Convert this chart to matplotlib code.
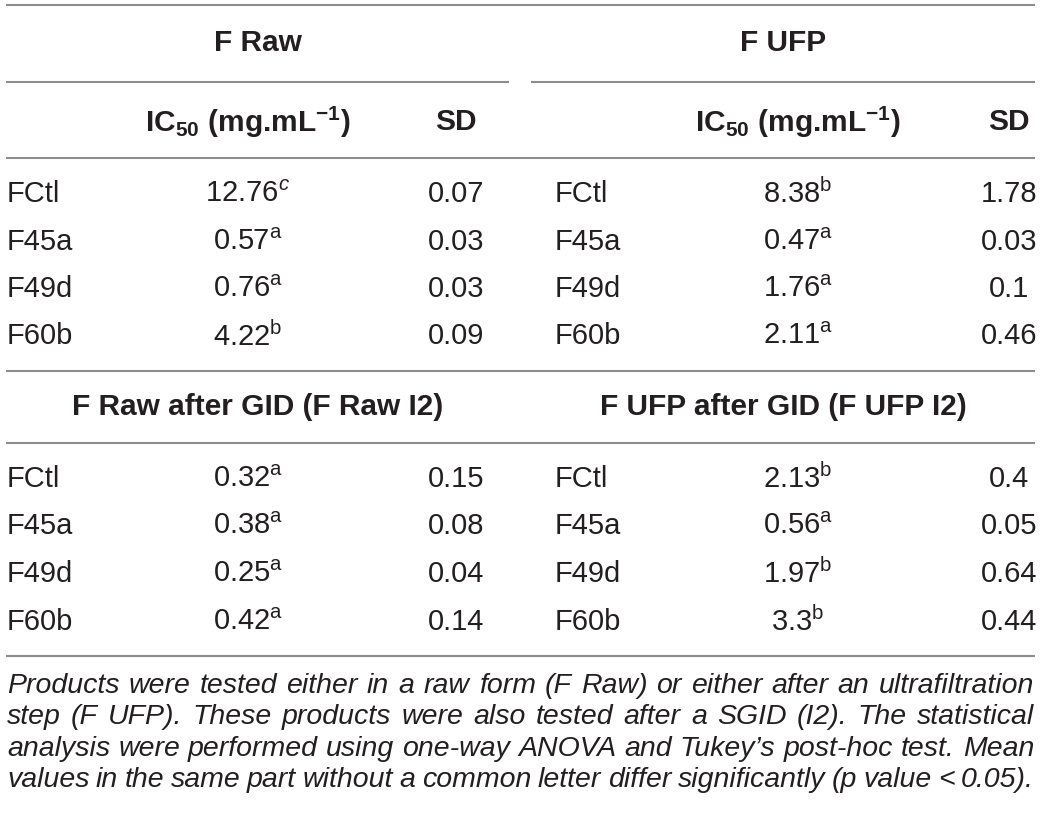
import matplotlib
matplotlib.use('Agg')
from matplotlib import pyplot as plt

plt.rcParams['font.family'] = ['Liberation Sans', 'DejaVu Sans']
plt.rcParams['mathtext.fontset'] = 'custom'
plt.rcParams['mathtext.rm'] = 'Liberation Sans'
plt.rcParams['mathtext.it'] = 'Liberation Sans:italic'
plt.rcParams['mathtext.bf'] = 'Liberation Sans:bold'

# table data
samples = ['FCtl', 'F45a', 'F49d', 'F60b']

raw_ic50 = ['12.76', '0.57', '0.76', '4.22']
raw_let = ['c', 'a', 'a', 'b']
raw_sd = ['0.07', '0.03', '0.03', '0.09']

ufp_ic50 = ['8.38', '0.47', '1.76', '2.11']
ufp_let = ['b', 'a', 'a', 'a']
ufp_sd = ['1.78', '0.03', '0.1', '0.46']

rawi2_ic50 = ['0.32', '0.38', '0.25', '0.42']
rawi2_let = ['a', 'a', 'a', 'a']
rawi2_sd = ['0.15', '0.08', '0.04', '0.14']

ufpi2_ic50 = ['2.13', '0.56', '1.97', '3.3']
ufpi2_let = ['b', 'a', 'b', 'b']
ufpi2_sd = ['0.4', '0.05', '0.64', '0.44']

titles = ['F Raw', 'F UFP', 'F Raw after GID (F Raw I2)', 'F UFP after GID (F UFP I2)']

caption = ["Products were tested either in a raw form (F Raw) or either after an ultrafiltration",
           "step (F UFP). These products were also tested after a SGID (I2). The statistical",
           "analysis were performed using one-way ANOVA and Tukey\u2019s post-hoc test. Mean",
           "values in the same part without a common letter differ significantly (p value < 0.05)."]

W, H = 1040, 816
fig = plt.figure(figsize=(W/100, H/100), dpi=100)
ax = fig.add_axes([0, 0, 1, 1])
ax.set_xlim(0, W)
ax.set_ylim(H, 0)
ax.axis('off')

tc = '#231f20'
lc = '#8c8c8c'
fs = 21
hfs = 21.5

def hline(y, x0=6, x1=1035):
    ax.plot([x0, x1], [y, y], color=lc, lw=1.5, solid_capstyle='butt')

hline(5)
hline(82, 6, 509)
hline(82, 531, 1035)
hline(158)
hline(371)
hline(443)
hline(656)

# column positions (pixels) for left and right halves
lab_x = [7, 555]
ic_x = [248, 798]
sd_x = [456, 1009]
title_x = [258, 783]

for k in range(2):
    ax.text(title_x[k], 43, titles[k], ha='center', va='center', fontsize=hfs,
            fontweight='bold', color=tc)
    ax.text(ic_x[k], 122, r'IC$_{\mathbf{50}}$ (mg.mL$^{\mathbf{-1}}$)', ha='center',
            va='center', fontsize=hfs, fontweight='bold', color=tc)
    ax.text(sd_x[k], 122, 'SD', ha='center', va='center', fontsize=hfs,
            fontweight='bold', color=tc)
    ax.text(title_x[k], 407, titles[k + 2], ha='center', va='center', fontsize=hfs,
            fontweight='bold', color=tc)

def letter(l):
    if l == 'c':
        return r'$^{\mathit{c}}$'
    return r'$^{\mathrm{' + l + '}}$'

def block(k, y0, ic, let, sd):
    dy = 47.5
    for i in range(len(samples)):
        y = y0 + i * dy
        ax.text(lab_x[k], y, samples[i], ha='left', va='center', fontsize=fs, color=tc)
        ax.text(ic_x[k], y, ic[i] + letter(let[i]), ha='center', va='center',
                fontsize=fs, color=tc)
        ax.text(sd_x[k], y, sd[i], ha='center', va='center', fontsize=fs, color=tc)

block(0, 194, raw_ic50, raw_let, raw_sd)
block(1, 194, ufp_ic50, ufp_let, ufp_sd)
block(0, 479, rawi2_ic50, rawi2_let, rawi2_sd)
block(1, 479, ufpi2_ic50, ufpi2_let, ufpi2_sd)

# justified caption
r = fig.canvas.get_renderer()
cx0, cx1 = 7, 1034
for j, line in enumerate(caption):
    y = 686 + j * 31.3
    words = line.split(' ')
    arts = []
    widths = []
    for w in words:
        t = ax.text(0, y, w, ha='left', va='center', fontsize=20.5, style='italic', color=tc)
        arts.append(t)
        widths.append(t.get_window_extent(r).width)
    gap = (cx1 - cx0 - sum(widths)) / (len(words) - 1)
    x = cx0
    for t, wd in zip(arts, widths):
        t.set_x(x)
        x += wd + gap

fig.savefig('out.png', dpi=100, facecolor='white')
